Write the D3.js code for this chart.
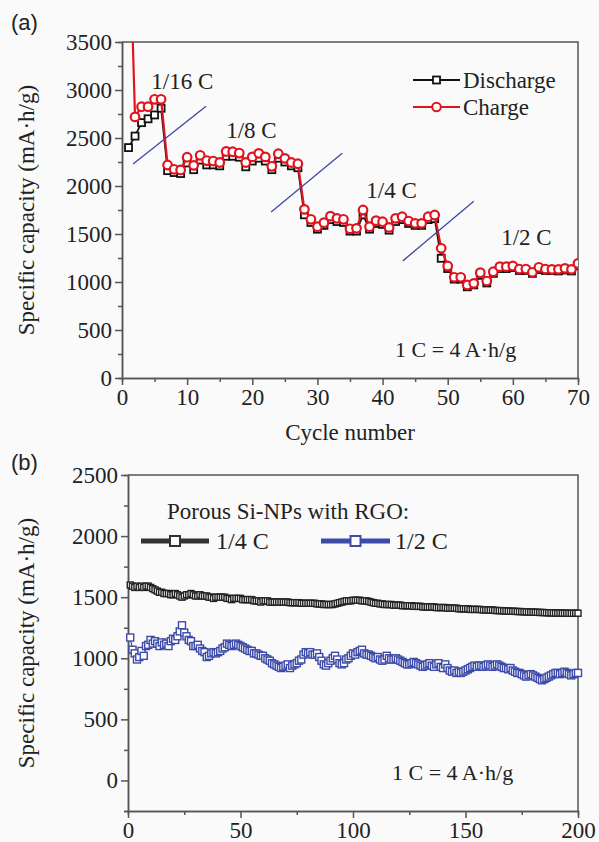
<!DOCTYPE html>
<html>
<head>
<meta charset="utf-8">
<script src="https://cdn.jsdelivr.net/npm/d3@7"></script>
<style>
  body { margin: 0; background: #fafafa; }
  svg text { font-family: "Liberation Serif", "Times New Roman", serif; fill: #222; }
</style>
</head>
<body>
<div id="chart"></div>
<script>
// ---- panel (a) data : rate test, cycles 1..70
var chargeA = [5000, 2720, 2826, 2826, 2903, 2903, 2219, 2174, 2167, 2300,
  2215, 2320, 2265, 2260, 2245, 2360, 2357, 2343, 2245, 2303,
  2340, 2303, 2205, 2336, 2288, 2245, 2232, 1757, 1653, 1576,
  1618, 1686, 1663, 1653, 1554, 1559, 1750, 1576, 1639, 1628,
  1569, 1663, 1680, 1635, 1611, 1611, 1680, 1698, 1351, 1167,
  1049, 1049, 969, 986, 1097, 1010, 1107, 1160, 1160, 1167,
  1135, 1135, 1101, 1153, 1135, 1132, 1132, 1142, 1132, 1194];
var dischargeA = [2400, 2520, 2660, 2700, 2740, 2810, 2160, 2140, 2130, 2240,
  2170, 2270, 2220, 2220, 2210, 2310, 2310, 2300, 2200, 2260,
  2290, 2260, 2170, 2290, 2250, 2210, 2190, 1700, 1620, 1550,
  1590, 1650, 1630, 1620, 1530, 1530, 1700, 1550, 1610, 1600,
  1540, 1630, 1650, 1610, 1590, 1590, 1650, 1660, 1247, 1140,
  1030, 1030, 950, 970, 1070, 990, 1090, 1140, 1140, 1150,
  1120, 1120, 1090, 1130, 1120, 1120, 1115, 1125, 1115, 1170];
var rateLabels = [
  {text: "1/16 C", x: 4.5, y: 3010},
  {text: "1/8 C", x: 16, y: 2500},
  {text: "1/4 C", x: 37.5, y: 1880},
  {text: "1/2 C", x: 58.2, y: 1390}
];
// blue separator strokes between rate steps (cycle, capacity)
var separators = [
  [[1.7, 2230], [12.9, 2830]],
  [[22.9, 1730], [33.8, 2340]],
  [[43.1, 1220], [54.0, 1840]]
];
var xTicksA = [0, 10, 20, 30, 40, 50, 60, 70];
var yTicksA = [0, 500, 1000, 1500, 2000, 2500, 3000, 3500];

// ---- panel (b) data : long cycling, cycles 1..200
var quarterC = [1600, 1590, 1580, 1590, 1580, 1590, 1580, 1590, 1590, 1580,
  1570, 1560, 1550, 1540, 1540, 1530, 1530, 1530, 1520, 1520,
  1530, 1520, 1510, 1500, 1510, 1520, 1520, 1530, 1520, 1510,
  1510, 1520, 1510, 1510, 1510, 1500, 1500, 1490, 1500, 1500,
  1500, 1500, 1500, 1490, 1490, 1480, 1490, 1490, 1490, 1490,
  1480, 1480, 1480, 1480, 1480, 1470, 1470, 1470, 1460, 1470,
  1470, 1470, 1460, 1460, 1460, 1460, 1460, 1460, 1460, 1460,
  1460, 1455, 1455, 1455, 1455, 1455, 1450, 1450, 1450, 1450,
  1450, 1450, 1450, 1445, 1445, 1445, 1440, 1440, 1440, 1440,
  1440, 1445, 1450, 1455, 1460, 1465, 1470, 1470, 1470, 1475,
  1475, 1475, 1475, 1470, 1470, 1470, 1465, 1460, 1455, 1450,
  1450, 1445, 1445, 1440, 1440, 1440, 1440, 1435, 1435, 1435,
  1435, 1430, 1430, 1430, 1430, 1430, 1425, 1425, 1425, 1425,
  1420, 1420, 1420, 1420, 1420, 1420, 1415, 1415, 1415, 1415,
  1415, 1410, 1410, 1410, 1410, 1410, 1405, 1405, 1405, 1405,
  1405, 1400, 1400, 1400, 1400, 1400, 1398, 1396, 1396, 1395,
  1395, 1395, 1392, 1390, 1390, 1390, 1388, 1387, 1386, 1385,
  1385, 1384, 1383, 1382, 1382, 1380, 1380, 1379, 1378, 1378,
  1377, 1376, 1375, 1375, 1374, 1373, 1372, 1372, 1371, 1370,
  1370, 1370, 1369, 1369, 1369, 1368, 1368, 1368, 1369, 1369];
var halfC = [1170, 1070, 1040, 990, 1010, 1060, 1020, 1100, 1110, 1150,
  1120, 1140, 1120, 1100, 1130, 1110, 1120, 1100, 1140, 1160,
  1150, 1180, 1220, 1270, 1210, 1180, 1150, 1140, 1100, 1100,
  1110, 1080, 1060, 1050, 1010, 1020, 1040, 1050, 1040, 1050,
  1060, 1080, 1090, 1120, 1110, 1100, 1110, 1120, 1110, 1100,
  1090, 1080, 1070, 1060, 1060, 1040, 1040, 1030, 1020, 1020,
  1000, 990, 980, 960, 950, 940, 930, 920, 930, 940,
  950, 920, 940, 950, 960, 980, 990, 1030, 1050, 1040,
  1050, 1030, 1030, 1040, 1010, 980, 950, 940, 960, 980,
  1000, 1020, 990, 960, 950, 960, 990, 1000, 1020, 1040,
  1030, 1050, 1060, 1070, 1040, 1030, 1030, 1020, 1010, 1000,
  1010, 990, 980, 990, 1020, 1000, 990, 990, 1000, 990,
  980, 970, 960, 950, 950, 960, 970, 960, 950, 940,
  930, 940, 950, 960, 940, 930, 950, 960, 930, 920,
  950, 920, 900, 890, 900, 880, 890, 880, 890, 900,
  910, 920, 930, 940, 930, 940, 940, 930, 940, 950,
  940, 930, 940, 950, 940, 930, 920, 920, 910, 920,
  900, 890, 880, 880, 870, 860, 850, 860, 870, 860,
  850, 840, 830, 820, 830, 840, 850, 860, 870, 880,
  880, 870, 880, 890, 880, 870, 860, 870, 880, 880];
var xTicksB = [0, 50, 100, 150, 200];
var yTicksB = [0, 500, 1000, 1500, 2000, 2500];

var W = 599, H = 842;
var svg = d3.select('#chart').append('svg')
  .attr('width', W).attr('height', H)
  .style('background', '#fafafa');

var axisColor = '#555';
var red = '#e0141e', blue = '#3c4aa8';
var serif = '"Liberation Serif", "Times New Roman", serif';

function styleAxis(g) {
  g.attr('font-family', serif);
  g.selectAll('path, line').attr('stroke', axisColor).attr('stroke-width', 1.5);
  g.selectAll('text').attr('font-size', 23).attr('fill', '#222');
}

function frame(box, xs, ys, xMajor, xMinor, yMajor, yMinor) {
  var g = svg.append('g');
  g.append('g').attr('transform', `translate(0,${box.bottom})`)
    .call(d3.axisBottom(xs).tickValues(xMinor).tickSize(4).tickFormat(''))
    .call(styleAxis);
  g.append('g').attr('transform', `translate(0,${box.bottom})`)
    .call(d3.axisBottom(xs).tickValues(xMajor).tickSize(7).tickPadding(4)
      .tickSizeOuter(0).tickFormat(d3.format('d')))
    .call(styleAxis);
  g.append('g').attr('transform', `translate(${box.left},0)`)
    .call(d3.axisLeft(ys).tickValues(yMinor).tickSize(4).tickFormat(''))
    .call(styleAxis);
  g.append('g').attr('transform', `translate(${box.left},0)`)
    .call(d3.axisLeft(ys).tickValues(yMajor).tickSize(7).tickPadding(3)
      .tickSizeOuter(0).tickFormat(d3.format('d')))
    .call(styleAxis);
  g.append('path')
    .attr('d', `M${box.left},${box.top}H${box.right}V${box.bottom}`)
    .attr('fill', 'none').attr('stroke', axisColor).attr('stroke-width', 1.5);
  return g;
}

// ================= panel (a)
var boxA = {left: 122, right: 578, top: 42, bottom: 378};
var xA = d3.scaleLinear().domain([0, 70]).range([boxA.left, boxA.right]);
var yA = d3.scaleLinear().domain([0, 3500]).range([boxA.bottom, boxA.top]);
var cyclesA = d3.range(1, chargeA.length + 1);

svg.append('clipPath').attr('id', 'clipA').append('rect')
  .attr('x', boxA.left).attr('y', boxA.top)
  .attr('width', boxA.right - boxA.left).attr('height', boxA.bottom - boxA.top);

frame(boxA, xA, yA, xTicksA, d3.range(5, 70, 10), yTicksA, d3.range(250, 3500, 500));

var gA = svg.append('g').attr('clip-path', 'url(#clipA)');
var lineA = d3.line().x((d, i) => xA(cyclesA[i])).y(d => yA(d));

gA.append('path').datum(dischargeA).attr('d', lineA)
  .attr('fill', 'none').attr('stroke', '#111').attr('stroke-width', 1.8);
gA.selectAll('.sq').data(dischargeA).join('rect').attr('class', 'sq')
  .attr('x', (d, i) => xA(cyclesA[i]) - 3.5).attr('y', d => yA(d) - 3.5)
  .attr('width', 7).attr('height', 7)
  .attr('fill', '#fff').attr('stroke', '#111').attr('stroke-width', 1.8);

gA.append('path').datum(chargeA).attr('d', lineA)
  .attr('fill', 'none').attr('stroke', red).attr('stroke-width', 2.2);
gA.selectAll('.ci').data(chargeA).join('circle').attr('class', 'ci')
  .attr('cx', (d, i) => xA(cyclesA[i])).attr('cy', d => yA(d)).attr('r', 4.3)
  .attr('fill', '#fff').attr('stroke', red).attr('stroke-width', 2.2);

svg.selectAll('.sep').data(separators).join('line').attr('class', 'sep')
  .attr('x1', d => xA(d[0][0])).attr('y1', d => yA(d[0][1]))
  .attr('x2', d => xA(d[1][0])).attr('y2', d => yA(d[1][1]))
  .attr('stroke', '#3a48a8').attr('stroke-width', 1.3);

svg.selectAll('.rate').data(rateLabels).join('text').attr('class', 'rate')
  .attr('x', d => xA(d.x)).attr('y', d => yA(d.y))
  .attr('font-size', 23).text(d => d.text);

svg.append('text').attr('x', 395).attr('y', 357).attr('font-size', 22)
  .text('1 C = 4 A·h/g');

// legend (a)
var legA = [{name: 'Discharge', color: '#111', y: 80, shape: 'sq'},
            {name: 'Charge', color: red, y: 107, shape: 'ci'}];
legA.forEach(function (d) {
  svg.append('line').attr('x1', 413).attr('x2', 460).attr('y1', d.y).attr('y2', d.y)
    .attr('stroke', d.color).attr('stroke-width', 2);
  if (d.shape === 'sq') {
    svg.append('rect').attr('x', 433).attr('y', d.y - 3.5).attr('width', 7).attr('height', 7)
      .attr('fill', '#fff').attr('stroke', d.color).attr('stroke-width', 1.8);
  } else {
    svg.append('circle').attr('cx', 436.5).attr('cy', d.y).attr('r', 4.3)
      .attr('fill', '#fff').attr('stroke', d.color).attr('stroke-width', 2);
  }
  svg.append('text').attr('x', 463).attr('y', d.y + 8).attr('font-size', 23).text(d.name);
});

svg.append('text').attr('x', 350).attr('y', 440).attr('text-anchor', 'middle')
  .attr('font-size', 23).text('Cycle number');
svg.append('text').attr('transform', `translate(34,${(boxA.top + boxA.bottom) / 2}) rotate(-90)`)
  .attr('text-anchor', 'middle').attr('font-size', 23).text('Specific capacity (mA·h/g)');
svg.append('text').attr('x', 11).attr('y', 30).attr('font-size', 22)
  .style('font-family', '"Liberation Sans", Arial, sans-serif').text('(a)');

// ================= panel (b)
var boxB = {left: 128, right: 578, top: 475, bottom: 811};
var xB = d3.scaleLinear().domain([0, 200]).range([boxB.left, boxB.right]);
var yB = d3.scaleLinear().domain([-250, 2500]).range([boxB.bottom, boxB.top]);
var cyclesB = d3.range(1, quarterC.length + 1);

frame(boxB, xB, yB, xTicksB, d3.range(25, 200, 50), yTicksB, d3.range(-250, 2500, 500));

var lineB = d3.line().x((d, i) => xB(cyclesB[i])).y(d => yB(d));
[{data: quarterC, color: '#222', size: 6}, {data: halfC, color: blue, size: 7}].forEach(function (s) {
  svg.append('path').datum(s.data).attr('d', lineB)
    .attr('fill', 'none').attr('stroke', s.color).attr('stroke-width', 1.2);
  svg.append('g').selectAll('rect').data(s.data).join('rect')
    .attr('x', (d, i) => xB(cyclesB[i]) - s.size / 2).attr('y', d => yB(d) - s.size / 2)
    .attr('width', s.size).attr('height', s.size)
    .attr('fill', '#fff').attr('stroke', s.color).attr('stroke-width', 1.4);
});

svg.append('text').attr('x', 167).attr('y', 519).attr('font-size', 23)
  .text('Porous Si-NPs with RGO:');
var legB = [{name: '1/4 C', color: '#333', x1: 141, x2: 209, tx: 216},
            {name: '1/2 C', color: blue, x1: 321, x2: 390, tx: 395}];
legB.forEach(function (d) {
  svg.append('line').attr('x1', d.x1).attr('x2', d.x2).attr('y1', 541).attr('y2', 541)
    .attr('stroke', d.color).attr('stroke-width', 5);
  svg.append('rect').attr('x', (d.x1 + d.x2) / 2 - 5).attr('y', 536).attr('width', 10).attr('height', 10)
    .attr('fill', '#fff').attr('stroke', d.color).attr('stroke-width', 2);
  svg.append('text').attr('x', d.tx).attr('y', 549).attr('font-size', 24).text(d.name);
});

svg.append('text').attr('x', 392).attr('y', 780).attr('font-size', 22)
  .text('1 C = 4 A·h/g');
svg.append('text').attr('transform', `translate(34,${(boxB.top + boxB.bottom) / 2}) rotate(-90)`)
  .attr('text-anchor', 'middle').attr('font-size', 23).text('Specific capacity (mA·h/g)');
svg.append('text').attr('x', 11).attr('y', 470).attr('font-size', 22)
  .style('font-family', '"Liberation Sans", Arial, sans-serif').text('(b)');
</script>
</body>
</html>
